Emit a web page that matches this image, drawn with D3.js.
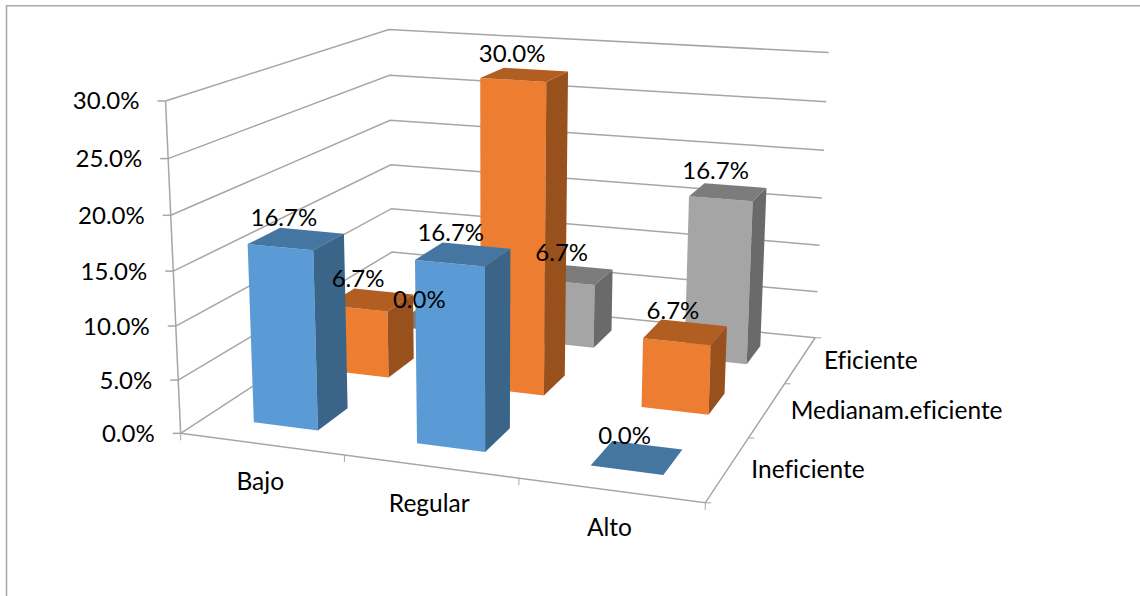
<!DOCTYPE html>
<html>
<head>
<meta charset="utf-8">
<script src="https://cdnjs.cloudflare.com/ajax/libs/d3/7.8.5/d3.min.js"></script>
<style>
html,body{margin:0;padding:0;background:#fff;overflow:hidden}
text{font-family:Lato,"Open Sans",sans-serif;fill:#000;font-variant-ligatures:none}
</style>
</head>
<body>
<svg id="chart" width="1140" height="596"></svg>
<script>
// Chart content
const categories = ["Bajo", "Regular", "Alto"];
const seriesNames = ["Ineficiente", "Medianam.eficiente", "Eficiente"]; // front to back
const ineficiente = [16.7, 16.7, 0];
const medianamente = [6.7, 30, 6.7];
const eficiente = [0, 6.7, 16.7];
const seriesValues = [ineficiente, medianamente, eficiente];
const valueTicks = [0, 5, 10, 15, 20, 25, 30];

// Face colours per series: front, side, top
const faceColours = [
  { front: "#5B9BD5", side: "#3A6488", top: "#4576A1" },
  { front: "#ED7D31", side: "#98501D", top: "#B25E22" },
  { front: "#A5A5A5", side: "#6A6A6A", top: "#7C7C7C" }
];

// Camera of the 3-D plot box: points in the unit cube (x, depth, height) and their place on the page
const cameraFit = [
  [0, 0, 0, 180.7, 432.7], [0, 0, 1, 165.5, 101], [1, 0, 0, 705, 503], [1, 1, 0, 814.4, 337.7],
  [1, 1, 1, 828, 51.7], [0, 1, 0, 393, 295], [0, 1, 1, 388, 29.3], [1, 1 / 3, 0, 748, 437.7],
  [1, 2 / 3, 0, 784.5, 383.3], [1 / 3, 0, 0, 343.6, 455], [2 / 3, 0, 0, 518, 478],
  [0, 0, 0.5, 174, 270.7], [1, 1, 0.5, 821.6, 198], [0, 1, 0.5, 391, 165],
  [0.1, 0.1, 0, 253.5, 422.7], [0.2333, 0.1, 0, 318, 430.3], [0.2333, 0.2333, 0, 347, 408.3],
  [0.2333, 0.1, 0.5567, 313.5, 250.7], [0.7667, 0.4333, 0, 642.5, 407.5], [0.9, 0.4333, 0, 710, 415],
  [0.4333, 0.4333, 1, 480.7, 78.3], [0.5667, 0.5667, 1, 568, 71.7],
  [0.7667, 0.7667, 0.5567, 690, 196.7], [0.9, 0.9, 0.5567, 766.7, 188.3]
];

function solveCamera(rows) {
  const n = 11;
  const A = d3.range(n).map(() => new Array(n + 1).fill(0));
  const add = (r, b) => {
    for (let i = 0; i < n; i++) {
      for (let j = 0; j < n; j++) A[i][j] += r[i] * r[j];
      A[i][n] += r[i] * b;
    }
  };
  rows.forEach(([x, y, z, u, v]) => {
    add([x, y, z, 1, 0, 0, 0, 0, -u * x, -u * y, -u * z], u);
    add([0, 0, 0, 0, x, y, z, 1, -v * x, -v * y, -v * z], v);
  });
  for (let c = 0; c < n; c++) {
    let best = c;
    for (let r = c + 1; r < n; r++) if (Math.abs(A[r][c]) > Math.abs(A[best][c])) best = r;
    [A[c], A[best]] = [A[best], A[c]];
    for (let r = 0; r < n; r++) {
      if (r === c) continue;
      const f = A[r][c] / A[c][c];
      for (let k = c; k <= n; k++) A[r][k] -= f * A[c][k];
    }
  }
  return A.map((row, i) => row[n] / row[i]);
}

const cam = solveCamera(cameraFit);
function project(x, y, z) {
  const w = cam[8] * x + cam[9] * y + cam[10] * z + 1;
  return [
    (cam[0] * x + cam[1] * y + cam[2] * z + cam[3]) / w,
    (cam[4] * x + cam[5] * y + cam[6] * z + cam[7]) / w
  ];
}

// Scales into the unit cube
const xBand = d3.scaleBand().domain(categories).range([0, 1]).paddingInner(0.6).paddingOuter(0.3);
const yBand = d3.scaleBand().domain(seriesNames).range([0, 1]).paddingInner(0.6).paddingOuter(0.3);
const xStep = xBand.step();
const yStep = yBand.step();
const zScale = d3.scaleLinear().domain([0, 30]).range([0, 1]);

const svg = d3.select("#chart");
const path = d3.line();
const gridColour = "#A6A6A6";

// Chart area border: left and top edges only
svg.append("path")
  .attr("d", "M6.5,596V5.7H1140")
  .attr("fill", "none").attr("stroke", "#ABABAB").attr("stroke-width", 1.6);

const walls = svg.append("g").attr("fill", "none").attr("stroke", gridColour).attr("stroke-width", 1.5);

// Gridlines on the left and back walls
valueTicks.forEach(t => {
  const z = zScale(t);
  walls.append("path").attr("d", path([project(0, 0, z), project(0, 1, z), project(1, 1, z)]));
});

// Axis lines and ticks
walls.append("path").attr("d", path([project(0, 0, 0), project(0, 0, 1)]));
walls.append("path").attr("d", path([project(0, 0, 0), project(1, 0, 0), project(1, 1, 0)]));
valueTicks.forEach(t => {
  const p = project(0, 0, zScale(t));
  walls.append("path").attr("d", path([[p[0] - 8, p[1]], p]));
});
d3.range(categories.length + 1).forEach(i => {
  const p = project(i * xStep, 0, 0);
  walls.append("path").attr("stroke-width", 1).attr("d", path([p, [p[0], p[1] + 7]]));
});
d3.range(seriesNames.length + 1).forEach(i => {
  const p = project(1, i * yStep, 0);
  walls.append("path").attr("stroke-width", 1).attr("d", path([p, [p[0] + 6, p[1]]]));
});

// Bars, painted from the back row to the front row
const bars = svg.append("g");
const labels = [];
const outline = pts => path(pts) + "Z";
d3.range(seriesNames.length - 1, -1, -1).forEach(s => {
  categories.forEach((cat, c) => {
    const v = seriesValues[s][c];
    const x0 = xBand(cat), x1 = x0 + xBand.bandwidth();
    const y0 = yBand(seriesNames[s]), y1 = y0 + yBand.bandwidth();
    const z = zScale(v);
    const col = faceColours[s];
    if (v > 0) {
      bars.append("path").attr("fill", col.front)
        .attr("d", outline([project(x0, y0, 0), project(x1, y0, 0), project(x1, y0, z), project(x0, y0, z)]));
      bars.append("path").attr("fill", col.side)
        .attr("d", outline([project(x1, y0, 0), project(x1, y1, 0), project(x1, y1, z), project(x1, y0, z)]));
    }
    bars.append("path").attr("fill", col.top)
      .attr("d", outline([project(x0, y0, z), project(x1, y0, z), project(x1, y1, z), project(x0, y1, z)]));
    const centre = project((x0 + x1) / 2, (y0 + y1) / 2, z);
    labels.push({ text: d3.format(".1f")(v) + "%", x: centre[0] - 12.5, y: centre[1] - 22.5 });
  });
});

// Text
const fontSize = 24;
const labelSize = 24.5;
svg.append("g").selectAll("text").data(valueTicks).join("text")
  .attr("font-size", fontSize)
  .attr("text-anchor", "end").attr("dominant-baseline", "central")
  .attr("x", t => project(0, 0, zScale(t))[0] - 26)
  .attr("y", t => project(0, 0, zScale(t))[1] - 1)
  .text(t => d3.format(".1f")(t) + "%");

svg.append("g").selectAll("text").data(categories).join("text")
  .attr("font-size", labelSize)
  .attr("text-anchor", "middle").attr("dominant-baseline", "central")
  .attr("x", c => project(xBand(c) + xBand.bandwidth() / 2, 0, 0)[0] - 1)
  .attr("y", c => project(xBand(c) + xBand.bandwidth() / 2, 0, 0)[1] + 36)
  .text(c => c);

svg.append("g").selectAll("text").data(seriesNames).join("text")
  .attr("font-size", labelSize)
  .attr("dominant-baseline", "central")
  .attr("x", s => project(1, yBand(s) + yBand.bandwidth() / 2, 0)[0] + 23.5)
  .attr("y", s => project(1, yBand(s) + yBand.bandwidth() / 2, 0)[1])
  .text(s => s);

svg.append("g").selectAll("text").data(labels).join("text")
  .attr("font-size", fontSize)
  .attr("text-anchor", "middle").attr("dominant-baseline", "central")
  .attr("x", d => d.x).attr("y", d => d.y)
  .text(d => d.text);
</script>
</body>
</html>
